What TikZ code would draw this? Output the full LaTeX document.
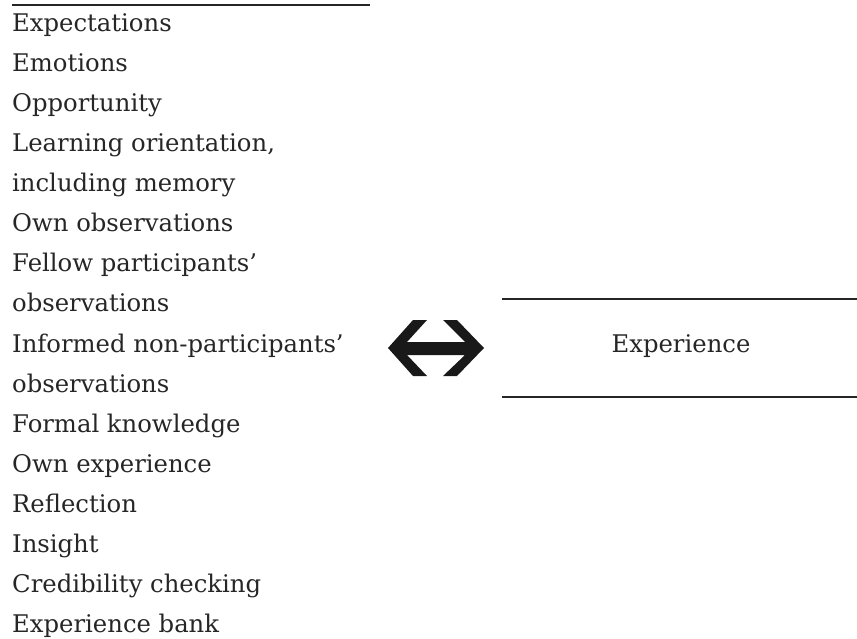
\documentclass[tikz,border=0pt]{standalone}
\usepackage{fontspec}
\setmainfont{DejaVu Serif}
\begin{document}
\begin{tikzpicture}[x=1pt,y=1pt,
  item/.style={anchor=base west,inner sep=0pt,font=\fontsize{24.3}{28}\selectfont,text=black!85},
  rule/.style={line width=2.6pt,black!85}]
\useasboundingbox (0,0) rectangle (857,-639);
\draw[rule] (12,-5) -- (370,-5);
\foreach \t [count=\i from 0] in {Expectations,Emotions,Opportunity,{Learning orientation,},including memory,Own observations,Fellow participants’,observations,Informed non-participants’,observations,Formal knowledge,Own experience,Reflection,Insight,Credibility checking,Experience bank}
  \node[item] (t\i) at (12,{-32-40*\i}) {\t};
\draw[rule] (502,-299) -- (857,-299);
\draw[rule] (502,-397) -- (857,-397);
\node[item,anchor=base] (exp) at (681,-352) {Experience};
\fill[black!90] (388,-348) -- (413,-320) -- (427,-320) -- (407,-342) -- (465,-342) -- (443,-320) -- (457,-320) -- (484,-348) -- (457,-376) -- (443,-376) -- (465,-355) -- (407,-355) -- (427,-376) -- (413,-376) -- cycle;
\end{tikzpicture}
\end{document}
